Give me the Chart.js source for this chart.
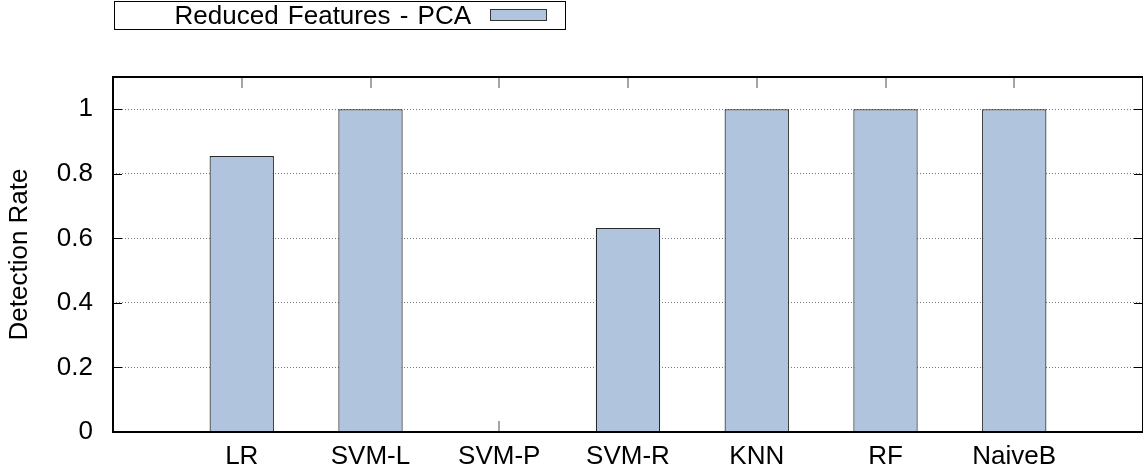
<!DOCTYPE html>
<html>
<head>
<meta charset="utf-8">
<script src="https://cdn.jsdelivr.net/npm/chart.js@4.4.1/dist/chart.umd.min.js"></script>
<style>
  html, body { margin: 0; padding: 0; background: #fff; }
  #wrap { position: relative; width: 1143px; height: 475px; }
  #legend {
    position: absolute; left: 114px; top: 1px; width: 452px; height: 29px;
    border: 1px solid #000; box-sizing: border-box; background: #fff;
    font: 26px "Liberation Sans", Arial, sans-serif; color: #000;
  }
  #legend .txt { position: absolute; right: 94px; top: 0px; line-height: 26px; white-space: nowrap; word-spacing: 2px; }
  #legend .swatch { position: absolute; left: 375px; top: 7px; width: 57px; height: 12px; box-sizing: border-box; border: 1px solid #333; background: #b0c4de; }
</style>
</head>
<body>
<div id="wrap">
  <canvas id="detChart"></canvas>
  <div id="legend"></div>
</div>
<script>
// data
const categories = ["LR", "SVM-L", "SVM-P", "SVM-R", "KNN", "RF", "NaiveB"];
const detectionRate = [0.855, 1.0, 0, 0.632, 1.0, 1.0, 1.0];
const yTicks = [0, 0.2, 0.4, 0.6, 0.8, 1];
const seriesLabel = "Reduced Features - PCA";

const FONT = "'Liberation Sans', Arial, sans-serif";

// legend (swatch right of the text, boxed)
const lg = document.getElementById("legend");
lg.innerHTML = '<span class="txt"></span><span class="swatch"></span>';
lg.querySelector(".txt").textContent = seriesLabel;

// inward tick marks + frame, gnuplot style
const frameTicks = {
  id: "frameTicks",
  beforeDatasetsDraw(chart) {
    const { ctx, chartArea: a, scales: { x, y } } = chart;
    ctx.save();
    ctx.lineWidth = 1.5;
    ctx.strokeStyle = "#888";
    ctx.beginPath();
    categories.forEach((c, i) => {
      const px = Math.round(x.getPixelForValue(i));
      ctx.moveTo(px, a.top); ctx.lineTo(px, a.top + 11);
      ctx.moveTo(px, a.bottom); ctx.lineTo(px, a.bottom - 11);
    });
    ctx.stroke();
    ctx.lineWidth = 1;
    ctx.strokeStyle = "#000";
    ctx.beginPath();
    yTicks.forEach(v => {
      const py = Math.round(y.getPixelForValue(v)) + 0.5;
      ctx.moveTo(a.left, py); ctx.lineTo(a.left + 9, py);
      ctx.moveTo(a.right, py); ctx.lineTo(a.right - 9, py);
    });
    ctx.stroke();
    ctx.restore();
  },
  afterDatasetsDraw(chart) {
    const { ctx, chartArea: a } = chart;
    ctx.save();
    ctx.lineWidth = 2;
    ctx.strokeStyle = "#000";
    ctx.strokeRect(a.left, a.top, a.right - a.left, a.bottom - a.top);
    ctx.restore();
  }
};

const ctx = document.getElementById("detChart").getContext("2d");
new Chart(ctx, {
  type: "bar",
  data: {
    datasets: [{
      label: seriesLabel,
      data: categories.map((c, i) => ({ x: i, y: detectionRate[i] })),
      backgroundColor: "#b0c4de",
      borderColor: "#2a2a2a",
      borderWidth: 1.2,
      barPercentage: 0.5,
      categoryPercentage: 1
    }]
  },
  options: {
    responsive: true,
    maintainAspectRatio: false,
    animation: false,
    layout: { padding: { top: 77, right: 0, left: 0, bottom: 0 } },
    scales: {
      x: {
        type: "linear",
        offset: false,
        min: -1,
        max: 7,
        afterBuildTicks: s => { s.ticks = categories.map((c, i) => ({ value: i })); },
        afterFit: s => { s.height = 43; },
        grid: { display: false, drawTicks: false, offset: false },
        border: { display: false },
        ticks: {
          padding: 9,
          color: "#000",
          font: { family: FONT, size: 26 },
          callback: v => categories[v]
        }
      },
      y: {
        min: 0,
        max: 1.1,
        afterBuildTicks: s => { s.ticks = yTicks.map(v => ({ value: v })); },
        afterFit: s => { s.width = 113; },
        grid: { color: "#777", lineWidth: 1, drawTicks: false },
        border: { display: false, dash: [1, 2] },
        ticks: {
          padding: 20,
          color: "#000",
          font: { family: FONT, size: 26 },
          callback: v => String(v)
        },
        title: {
          display: true,
          text: "Detection Rate",
          color: "#000",
          font: { family: FONT, size: 26 },
          padding: { top: 4, bottom: 0 }
        }
      }
    },
    plugins: { legend: { display: false }, tooltip: { enabled: false } }
  },
  plugins: [frameTicks]
});
</script>
</body>
</html>
